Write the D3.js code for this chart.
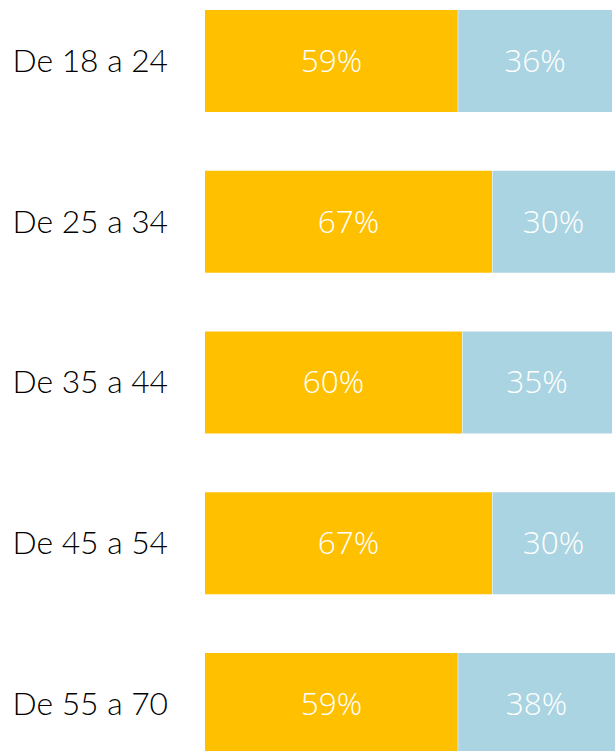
<!DOCTYPE html>
<html><head><meta charset="utf-8">
<script src="https://cdn.jsdelivr.net/npm/d3@7"></script>
<style>html,body{margin:0;padding:0;background:#fff;overflow:hidden}</style>
</head><body>
<svg id="c" width="615" height="751"></svg>
<script>
const categories = ["De 18 a 24","De 25 a 34","De 35 a 44","De 45 a 54","De 55 a 70"];
const seriesA = [59, 67, 60, 67, 59];
const seriesB = [36, 30, 35, 30, 38];
const colors = ["#FFC000", "#AAD4E1"];

const svg = d3.select("#c");
const W = 615, H = 751;
const x = d3.scaleLinear().domain([0, 100]).range([205, 633.4]);
const y = d3.scaleBand().domain(categories).range([10, 755]).paddingInner(0.3655).paddingOuter(0);

const rows = categories.map((c, i) => ({cat: c, segs: [
  {k: 0, x0: 0, x1: seriesA[i], v: seriesA[i]},
  {k: 1, x0: seriesA[i], x1: seriesA[i] + seriesB[i], v: seriesB[i]}
]}));

const g = svg.selectAll("g.row").data(rows).join("g").attr("class", "row")
  .attr("transform", d => `translate(0,${y(d.cat)})`);

g.selectAll("rect").data(d => d.segs).join("rect")
  .attr("x", d => x(d.x0) + (d.k ? 0.5 : 0))
  .attr("width", d => x(d.x1) - x(d.x0) - (d.k ? 0.5 : 0))
  .attr("y", 0).attr("height", y.bandwidth())
  .attr("fill", d => colors[d.k]);

g.selectAll("text.v").data(d => d.segs).join("text").attr("class", "v")
  .attr("x", d => (x(d.x0) + Math.min(x(d.x1), W)) / 2)
  .attr("y", y.bandwidth() / 2 + 11)
  .attr("text-anchor", "middle")
  .attr("fill", "#fff")
  .style("font-family", "'Open Sans', sans-serif")
  .style("font-weight", 300)
  .style("font-size", "31.5px")
  .text(d => d.v + "%");

g.append("text")
  .attr("x", 12.5).attr("y", y.bandwidth() / 2 + 11)
  .attr("fill", "#000")
  .style("font-family", "Lato, sans-serif")
  .style("font-weight", 300)
  .style("font-size", "31.8px")
  .text(d => d.cat);
</script>
</body></html>
